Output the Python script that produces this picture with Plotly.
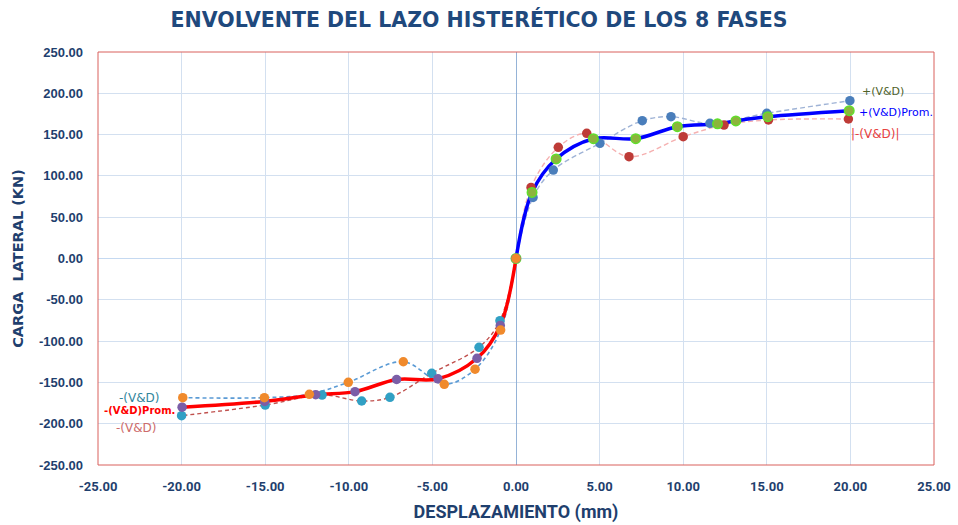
import plotly.graph_objects as go

# Envelope points per phase (displacement mm, lateral load kN)
pos_dv_x = [0, 1.02, 2.23, 5.02, 7.55, 9.27, 11.6, 15.0, 19.97]
pos_dv_y = [0, 74, 107, 139.5, 166.8, 171.7, 163.6, 175.8, 191]

pos_abs_neg_x = [0, 0.9, 2.53, 4.23, 6.76, 10.0, 12.44, 15.1, 19.88]
pos_abs_neg_y = [0, 86, 134.6, 151.5, 123.3, 147.5, 161.6, 167.7, 168.9]

pos_avg_x = [0, 0.96, 2.4, 4.63, 7.16, 9.65, 12.05, 13.15, 15.06, 19.93]
pos_avg_y = [0, 80, 120.5, 145, 145, 159.6, 163, 166.6, 171.7, 179]

neg_a_x = [0, -0.92, -2.45, -4.29, -6.74, -10.03, -12.36, -15.05, -19.93]
neg_a_y = [0, -86.6, -134, -152.3, -125, -149.9, -164.4, -168.5, -168.5]

neg_b_x = [0, -0.96, -2.21, -5.04, -7.54, -9.23, -11.6, -15.0, -20.0]
neg_b_y = [0, -75.3, -107.5, -139, -168.1, -172.5, -165.3, -177.4, -190.3]

neg_avg_x = [0, -0.94, -2.33, -4.67, -7.14, -9.63, -11.98, -15.03, -19.97]
neg_avg_y = [0, -81, -120.8, -145.7, -146.5, -161.2, -164.9, -173, -180]

x_ticks = [-25, -20, -15, -10, -5, 0, 5, 10, 15, 20, 25]
y_ticks = [-250, -200, -150, -100, -50, 0, 50, 100, 150, 200, 250]

NAVY = "#1f3f6e"

fig = go.Figure()

# connecting lines (drawn first so markers sit on top)
line_specs = [
    (pos_dv_x, pos_dv_y, dict(color="#9fb3d6", width=1.4, dash="5px,3px", shape="spline")),
    (pos_abs_neg_x, pos_abs_neg_y, dict(color="#f5b0b0", width=1.4, dash="5px,3px", shape="spline")),
    (neg_a_x, neg_a_y, dict(color="#5b9bd5", width=1.6, dash="4px,3px", shape="spline")),
    (neg_b_x, neg_b_y, dict(color="#c0504d", width=1.4, dash="4px,3px", shape="spline")),
    (pos_avg_x, pos_avg_y, dict(color="#0000ff", width=3.5, shape="spline")),
    (neg_avg_x, neg_avg_y, dict(color="#ff0000", width=3.5, shape="spline")),
]
for xs, ys, ln in line_specs:
    fig.add_trace(go.Scatter(x=xs, y=ys, mode="lines", line=ln,
                             hoverinfo="skip", showlegend=False))

# markers
marker_specs = [
    (pos_dv_x, pos_dv_y, dict(color="#4a7ebb", size=9.5)),
    (pos_abs_neg_x, pos_abs_neg_y, dict(color="#be3b37", size=9.5)),
    (pos_avg_x, pos_avg_y, dict(color="#8cb43c", size=9.5, line=dict(color="#5fe02a", width=1.5))),
    (neg_b_x, neg_b_y, dict(color="#31a0c4", size=9.5)),
    (neg_avg_x, neg_avg_y, dict(color="#7b5ea7", size=9.5)),
    (neg_a_x, neg_a_y, dict(color="#f08a2c", size=9.5)),
]
for xs, ys, mk in marker_specs:
    fig.add_trace(go.Scatter(x=xs, y=ys, mode="markers", marker=mk,
                             showlegend=False))

# series labels
labels = [
    (21.95, 201.6, "+(V&D)", "#4f6228", False, 11),
    (22.7, 177.0, "+(V&D)Prom.", "#0000ff", False, 11),
    (21.5, 150.7, "|-(V&D)|", "#e8423f", False, 12),
    (-22.5, -169.0, "-(V&D)", "#31859c", False, 12),
    (-22.5, -184.6, "-(V&D)Prom.", "#ff0000", True, 10),
    (-22.7, -205.0, "-(V&D)", "#cd6b6b", False, 12),
]
for lx, ly, txt, col, bold, sz in labels:
    fig.add_annotation(x=lx, y=ly, xref="x", yref="y", showarrow=False,
                       text=f"<b>{txt}</b>" if bold else txt,
                       font=dict(family="DejaVu Sans", size=sz, color=col))

# plot-area frame
fig.add_shape(type="rect", xref="paper", yref="paper", x0=0, y0=0, x1=1, y1=1,
              line=dict(color="#d9605c", width=1))

fig.update_layout(
    width=958, height=525,
    margin=dict(l=98, r=24, t=52, b=60, autoexpand=False),
    paper_bgcolor="white", plot_bgcolor="white",
    title=dict(text="<b>ENVOLVENTE DEL LAZO HISTERÉTICO DE LOS 8 FASES</b>",
               x=0.5, xanchor="center", y=0.962, yanchor="middle",
               font=dict(family="DejaVu Sans", size=20.5, color="#1f497d")),
    xaxis=dict(range=[-25, 25], tickvals=x_ticks, automargin=False,
               ticktext=[f"<b>{v:.2f}</b>" for v in x_ticks],
               tickfont=dict(family="Liberation Sans Narrow, Roboto", size=13, color=NAVY),
               ticklabelstandoff=12,
               showgrid=True, gridcolor="#d3e0f0", gridwidth=1,
               zeroline=True, zerolinecolor="#95b3d7", zerolinewidth=1.2,
               showline=False, ticks="", ticklen=0,
               title=dict(text="<b>DESPLAZAMIENTO (mm)</b>", standoff=12,
                          font=dict(family="Liberation Sans Narrow, Roboto", size=18, color=NAVY))),
    yaxis=dict(range=[-250, 250], tickvals=y_ticks, automargin=False,
               ticktext=[f"<b>{v:.2f}</b>" for v in y_ticks],
               tickfont=dict(family="Liberation Sans", size=13, color=NAVY),
               ticklabelstandoff=14,
               showgrid=True, gridcolor="#d3e0f0", gridwidth=1,
               zeroline=True, zerolinecolor="#c5d9f1", zerolinewidth=1,
               showline=False, ticks="", ticklen=0,
               title=dict(text="<b>CARGA  LATERAL (KN)</b>", standoff=11,
                          font=dict(family="DejaVu Sans", size=14.5, color=NAVY))),
)

fig.write_html("out.html")
